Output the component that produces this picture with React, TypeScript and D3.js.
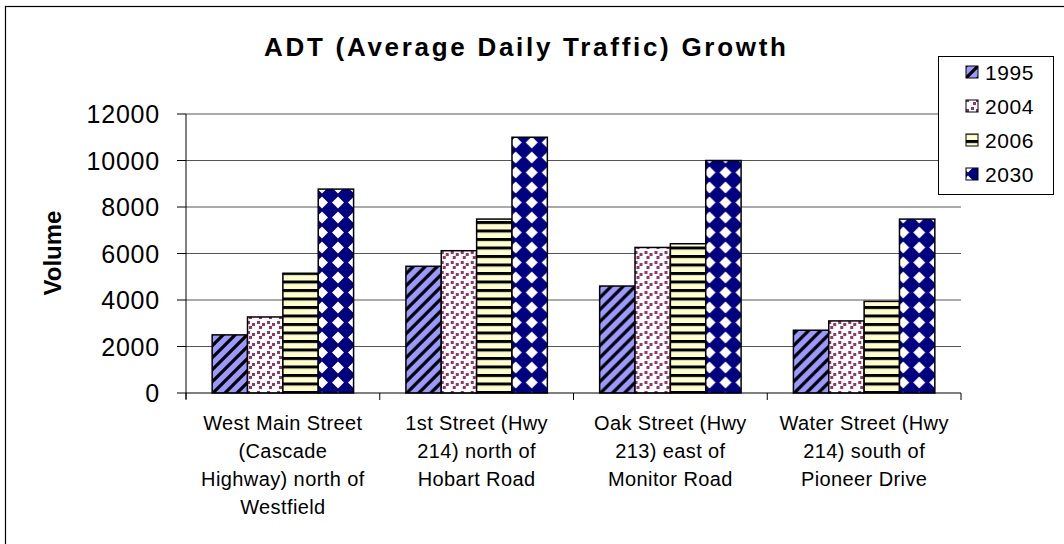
import * as d3 from "d3";

const W = 1064;
const H = 544;
const PLOT = { left: 186, right: 961, top: 114, bottom: 393 };

// categories (each label pre-wrapped like the original)
const categories = ["West Main", "1st Street", "Oak Street", "Water Street"];
const categoryLines = [
  ["West Main Street", "(Cascade", "Highway) north of", "Westfield"],
  ["1st Street (Hwy", "214) north of", "Hobart Road"],
  ["Oak Street (Hwy", "213) east of", "Monitor Road"],
  ["Water Street (Hwy", "214) south of", "Pioneer Drive"],
];

const series = ["1995", "2004", "2006", "2030"];
const v1995 = [2500, 5450, 4600, 2700];
const v2004 = [3270, 6120, 6260, 3100];
const v2006 = [5150, 7480, 6420, 3940];
const v2030 = [8770, 11000, 10000, 7480];
const yTicks = [0, 2000, 4000, 6000, 8000, 10000, 12000];

const seriesValues = [v1995, v2004, v2006, v2030];
const FONT = "Arial, 'Liberation Sans', sans-serif";

function Patterns() {
  return (
    <defs>
      {/* 1995: periwinkle with black diagonal stripes */}
      <pattern id="p1995" patternUnits="userSpaceOnUse" width={12} height={12}>
        <rect width={12} height={12} fill="#9999FF" />
        <path d="M-3,15 L15,-3 M-3,3 L3,-3 M9,15 L15,9" stroke="#000" strokeWidth={3.2} />
      </pattern>
      {/* 2004: white with maroon small squares */}
      <pattern id="p2004" patternUnits="userSpaceOnUse" width={10} height={10}>
        <rect width={10} height={10} fill="#fff" />
        <rect x={1} y={1} width={3} height={3} fill="#993366" />
        <rect x={6} y={3} width={3} height={3} fill="#993366" />
        <rect x={3} y={6} width={3} height={3} fill="#993366" />
      </pattern>
      {/* 2006: light yellow with black horizontal stripes */}
      <pattern id="p2006" patternUnits="userSpaceOnUse" width={8} height={8.5}>
        <rect width={8} height={8.5} fill="#FFFFCC" />
        <rect y={0} width={8} height={3} fill="#000" />
      </pattern>
      {/* 2030: navy with white diamonds */}
      <pattern id="p2030" patternUnits="userSpaceOnUse" width={16} height={15}>
        <rect width={16} height={15} fill="#000080" />
        <path d="M8,1.5 L14,7.5 L8,13.5 L2,7.5 Z" fill="#fff" />
      </pattern>
    </defs>
  );
}

export default function App() {
  const y = d3.scaleLinear().domain([0, 12000]).range([PLOT.bottom, PLOT.top]);
  const x0 = d3.scaleBand<string>().domain(categories).range([PLOT.left, PLOT.right]).padding(0);
  const x1 = d3
    .scaleBand<string>()
    .domain(series)
    .range([0, x0.bandwidth()])
    .paddingInner(0)
    .paddingOuter(0.74);

  const boundaries = [...categories.map((c) => x0(c) as number), PLOT.right];

  return (
    <svg
      width={W}
      height={H}
      style={{ position: "absolute", left: 0, top: 0, background: "#fff" }}
      fontFamily={FONT}
    >
      <Patterns />
      <rect x={5.5} y={6.5} width={1100} height={600} fill="#fff" stroke="#000" strokeWidth={1.2} />

      {/* title */}
      <text
        x={525}
        y={56}
        textAnchor="middle"
        fontSize={26}
        fontWeight="bold"
        textLength={522}
        lengthAdjust="spacing"
      >
        ADT (Average Daily Traffic) Growth
      </text>

      {/* grid lines */}
      {yTicks.slice(1).map((t) => (
        <line key={t} x1={PLOT.left} x2={PLOT.right} y1={y(t)} y2={y(t)} stroke="#555" strokeWidth={1} />
      ))}

      {/* bars */}
      {categories.map((c, ci) => (
        <g key={c} transform={`translate(${x0(c)},0)`}>
          {series.map((s, si) => {
            const v = seriesValues[si][ci];
            return (
              <rect
                key={s}
                x={x1(s)}
                y={y(v)}
                width={x1.bandwidth()}
                height={y(0) - y(v)}
                fill={`url(#p${s})`}
                stroke="#000"
                strokeWidth={1.5}
              />
            );
          })}
        </g>
      ))}

      {/* y axis */}
      <line x1={PLOT.left} x2={PLOT.left} y1={PLOT.top} y2={PLOT.bottom + 6} stroke="#000" />
      {yTicks.map((t) => (
        <g key={t}>
          <line x1={PLOT.left - 9} x2={PLOT.left} y1={y(t)} y2={y(t)} stroke="#000" />
          <text x={160} y={y(t) + 9} textAnchor="end" fontSize={25} letterSpacing={0.8}>
            {t}
          </text>
        </g>
      ))}

      {/* x axis */}
      <line x1={PLOT.left} x2={PLOT.right} y1={PLOT.bottom} y2={PLOT.bottom} stroke="#000" />
      {boundaries.map((b, i) => (
        <line key={i} x1={b} x2={b} y1={PLOT.bottom} y2={PLOT.bottom + 7} stroke="#000" />
      ))}
      {categories.map((c, ci) => (
        <text
          key={c}
          x={(x0(c) as number) + x0.bandwidth() / 2}
          textAnchor="middle"
          fontSize={20}
          letterSpacing={0.4}
        >
          {categoryLines[ci].map((line, li) => (
            <tspan key={li} x={(x0(c) as number) + x0.bandwidth() / 2} y={430 + li * 28}>
              {line}
            </tspan>
          ))}
        </text>
      ))}

      {/* y label */}
      <text transform={`translate(61,253) rotate(-90)`} textAnchor="middle" fontSize={24} fontWeight="bold">
        Volume
      </text>

      {/* legend */}
      <rect x={938.5} y={56.5} width={115} height={138} fill="#fff" stroke="#000" />
      {series.map((s, i) => (
        <g key={s} transform={`translate(0,${72 + i * 34})`}>
          <rect x={966} y={-6} width={12} height={12} fill={`url(#p${s})`} stroke="#000" strokeWidth={1} />
          <text x={985} y={8} fontSize={21} letterSpacing={0.6}>
            {s}
          </text>
        </g>
      ))}
    </svg>
  );
}
